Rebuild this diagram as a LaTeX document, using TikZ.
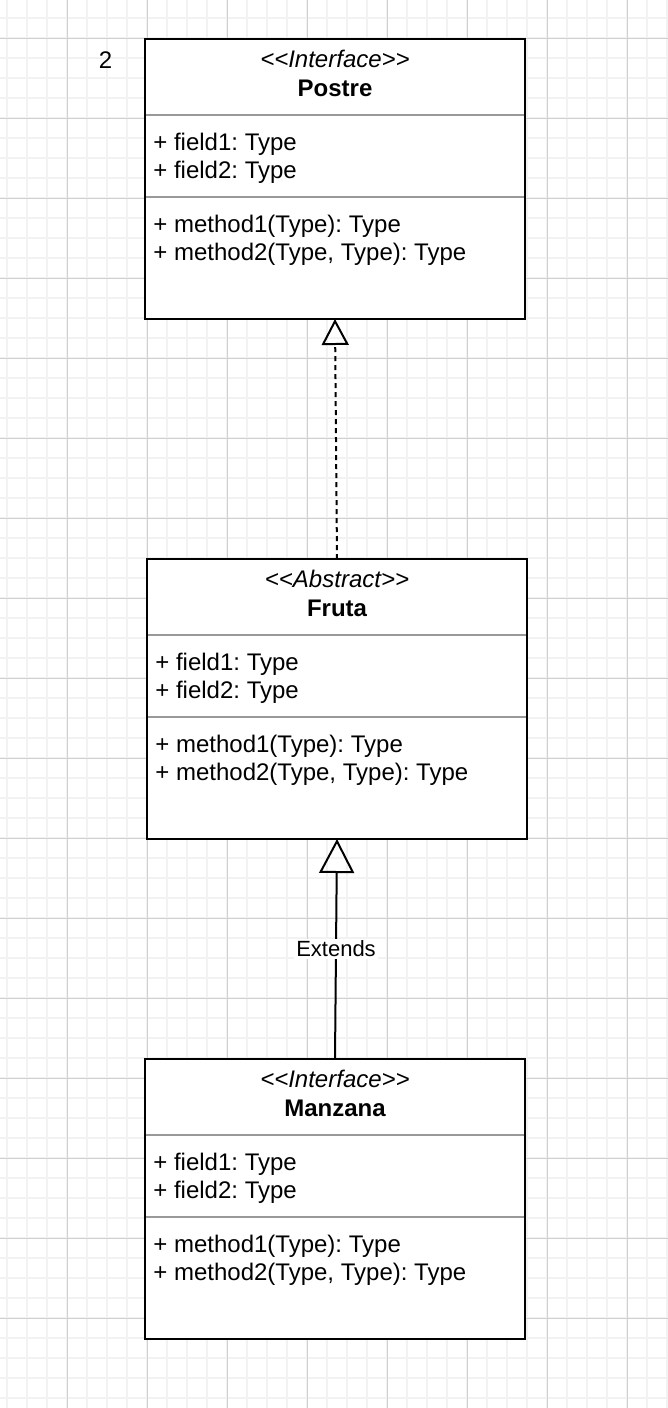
\documentclass[tikz,border=0pt]{standalone}
\usepackage{fontspec}
\usepackage{tikz}
\usetikzlibrary{positioning,calc,arrows.meta}
\newfontfamily\umlfont{Liberation Sans}
\definecolor{gridminor}{HTML}{F2F2F2}
\definecolor{gridmajor}{HTML}{D0D0D0}
\definecolor{sepgray}{HTML}{999999}
\frenchspacing

\begin{document}
\begin{tikzpicture}[x=0.5pt, y=-0.5pt,
    font=\umlfont\fontsize{12}{14}\selectfont,
    classbox/.style={draw=black, line width=1pt, fill=white, minimum width=190pt,
        minimum height=140pt, inner sep=0pt, outer sep=0pt},
    stereo/.style={anchor=base, inner sep=0pt, font=\umlfont\itshape\fontsize{12}{14}\selectfont},
    classname/.style={anchor=base, inner sep=0pt, font=\umlfont\bfseries\fontsize{12}{14}\selectfont},
    member/.style={anchor=base west, inner sep=0pt},
    sepline/.style={draw=sepgray, line width=1pt, shorten <=0.5pt, shorten >=0.5pt},
    realize/.style={line width=1pt, dash pattern=on 2.5pt off 2pt,
        -{Triangle[open, length=13pt, width=13.5pt]}},
    extends/.style={line width=1pt, -{Triangle[open, length=17pt, width=17.5pt]}},
    edgelabel/.style={fill=white, inner sep=1pt, font=\umlfont\fontsize{11}{13}\selectfont}]
    \useasboundingbox (0,0) rectangle (668,1408);

    % grid
    \foreach \gx in {7,27,...,667} \draw[gridminor, line width=0.8pt] (\gx,0) -- (\gx,1408);
    \foreach \gy in {18,38,...,1398} \draw[gridminor, line width=0.8pt] (0,\gy) -- (668,\gy);
    \foreach \gx in {67,147,...,627} \draw[gridmajor, line width=0.5pt] (\gx,0) -- (\gx,1408);
    \foreach \gy in {38,118,...,1318} \draw[gridmajor, line width=0.5pt] (0,\gy) -- (668,\gy);

    % classes
    \node[classbox, anchor=north west] (postre) at (145,39) {};
    \node[classbox, below=120pt of postre, xshift=1pt] (fruta) {};
    \node[classbox, below=110pt of fruta, xshift=-1pt] (manzana) {};

    \node[stereo] (postreS) at ($(postre.north)+(0,28)$) {<<Interface>>};
    \node[classname] (postreT) at ($(postre.north)+(0,57)$) {Postre};
    \node[stereo] (frutaS) at ($(fruta.north)+(0,28)$) {<<Abstract>>};
    \node[classname] (frutaT) at ($(fruta.north)+(0,57)$) {Fruta};
    \node[stereo] (manzanaS) at ($(manzana.north)+(0,28)$) {<<Interface>>};
    \node[classname] (manzanaT) at ($(manzana.north)+(0,57)$) {Manzana};

    % compartments
    \foreach \c in {postre,fruta,manzana}{
        \draw[sepline] ($(\c.north west)+(0,76)$) -- ($(\c.north east)+(0,76)$);
        \draw[sepline] ($(\c.north west)+(0,158)$) -- ($(\c.north east)+(0,158)$);
        \node[member] (\c-f1) at ($(\c.north west)+(8,111)$) {+ field1: Type};
        \node[member] (\c-f2) at ($(\c.north west)+(8,139)$) {+ field2: Type};
        \node[member] (\c-m1) at ($(\c.north west)+(8,193)$) {+ method1(Type): Type};
        \node[member] (\c-m2) at ($(\c.north west)+(8,221)$) {+ method2(Type, Type): Type};
    }

    \node[anchor=base, inner sep=0pt] (num) at (105.5,68) {2};

    % relations
    \draw[realize] (fruta.north) -- (postre.south);
    \draw[extends] (manzana.north) -- node[edgelabel] (ext) {Extends} (fruta.south);
\end{tikzpicture}
\end{document}
